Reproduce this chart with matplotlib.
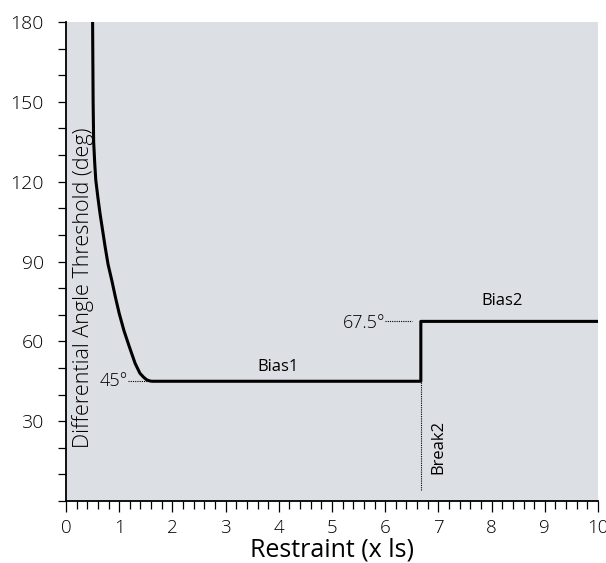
import numpy as np
import matplotlib
matplotlib.use('Agg')
import matplotlib.pyplot as plt
from matplotlib.ticker import MultipleLocator

plt.rcParams['font.family'] = ['Open Sans', 'DejaVu Sans']
plt.rcParams['font.weight'] = 'light'

# threshold curve
curve_x = [0.50, 0.51, 0.52, 0.54, 0.56, 0.60, 0.64, 0.69, 0.735, 0.79, 0.86,
           0.93, 1.00, 1.09, 1.19, 1.30, 1.39, 1.46, 1.52, 1.58, 1.62]
curve_y = [180, 150, 135, 127, 120.6, 114, 108, 101.5, 95.6, 89, 83,
           76.5, 70.5, 64, 58, 51.7, 48, 46.5, 45.5, 45.1, 45]
bias1 = 45
bias2 = 67.5
break2 = 6.67
x_end = 10

fig = plt.figure(figsize=(6.06, 5.63), dpi=100)
ax = fig.add_axes([0.1089, 0.1101, 0.8779, 0.8508])
ax.set_facecolor('#dcdfe3')

px = curve_x + [break2, break2, x_end]
py = curve_y + [bias1, bias2, bias2]
ax.plot(px, py, color='black', lw=2.2, solid_joinstyle='round')

# dotted guides
ax.plot([1.17, 1.55], [bias1, bias1], color='black', lw=0.8, ls=(0, (1, 1)))
ax.plot([6.0, 6.5], [bias2, bias2], color='black', lw=0.8, ls=(0, (1, 1)))
ax.plot([break2, break2], [4, bias1], color='black', lw=0.8, ls=(0, (1, 1)))

ax.text(1.17, bias1, '45°', ha='right', va='center', fontsize=13)
ax.text(6.0, bias2 - 0.5, '67.5°', ha='right', va='center', fontsize=13)
ax.text(3.98, 50.5, 'Bias1', ha='center', va='center', fontsize=12, weight='normal')
ax.text(8.19, 75.3, 'Bias2', ha='center', va='center', fontsize=12, weight='normal')
ax.text(7.0, 20.4, 'Break2', ha='center', va='center', rotation=90, fontsize=12,
        weight='normal')
ax.text(0.32, 80.2, 'Differential Angle Threshold (deg)', ha='center', va='center',
        rotation=90, fontsize=15.5)

ax.set_xlim(0, x_end)
ax.set_ylim(0, 180)
ax.xaxis.set_major_locator(MultipleLocator(1))
ax.xaxis.set_minor_locator(MultipleLocator(0.2))
ax.yaxis.set_minor_locator(MultipleLocator(10))
ax.set_yticks([0, 30, 60, 90, 120, 150, 180])
ax.set_yticklabels(['', '30', '60', '90', '120', '150', '180'])

ax.tick_params(axis='x', which='major', length=8, width=0.9, pad=5, labelsize=13.5)
ax.tick_params(axis='x', which='minor', length=6, width=0.9)
ax.tick_params(axis='y', which='both', length=6, width=0.9, pad=10, labelsize=14)
ax.xaxis.get_major_ticks()[0].tick1line.set_visible(False)

for s in ['top', 'right']:
    ax.spines[s].set_visible(False)
for s in ['left', 'bottom']:
    ax.spines[s].set_linewidth(1.3)

ax.set_xlabel('Restraint (x ls)', fontsize=18, labelpad=0)

fig.savefig('out.png', dpi=100)
